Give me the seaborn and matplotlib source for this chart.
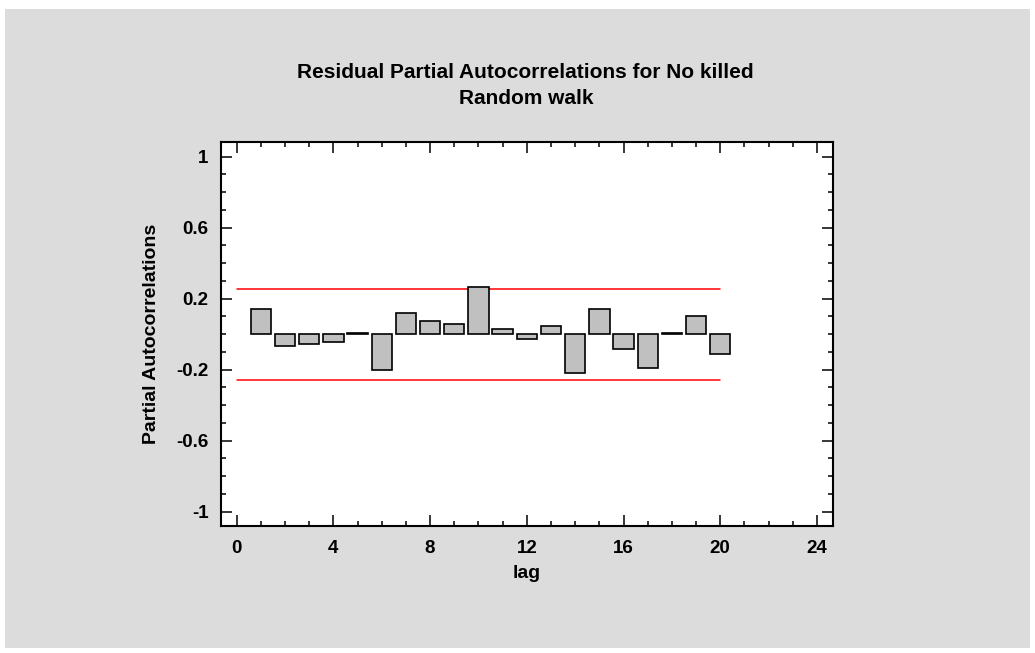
import numpy as np
import pandas as pd
import seaborn as sns
import matplotlib.pyplot as plt
from matplotlib.patches import Rectangle
from matplotlib.ticker import MultipleLocator, FuncFormatter

# residual partial autocorrelations
lags = list(range(1, 21))
pacf = [0.139, -0.066, -0.056, -0.045, 0.006, -0.200, 0.120, 0.075, 0.056, 0.266,
        0.028, -0.028, 0.047, -0.219, 0.139, -0.084, -0.193, 0.006, 0.101, -0.112]
limit = 0.256
limit_span = [0, 20]

df = pd.DataFrame({"lag": lags, "pacf": pacf})

sns.set_theme(style="white")
plt.rcParams["font.family"] = ["Liberation Sans", "DejaVu Sans"]
plt.rcParams["font.weight"] = "bold"
plt.rcParams["text.color"] = "black"
plt.rcParams["axes.labelcolor"] = "black"
plt.rcParams["xtick.color"] = "black"
plt.rcParams["ytick.color"] = "black"

fig = plt.figure(figsize=(10.35, 6.53), dpi=100)
fig.patch.set_facecolor("white")
# grey panel behind the chart
fig.patches.append(Rectangle((5 / 1035, 5 / 653), 1025 / 1035, 639 / 653,
                             transform=fig.transFigure, facecolor="#dcdcdc",
                             edgecolor="none", zorder=-10))

ax = fig.add_axes([0.2135, 0.1945, 0.591, 0.5875])
ax.set_facecolor("white")

sns.barplot(data=df, x="lag", y="pacf", native_scale=True, width=0.84,
            color="#c0c0c0", saturation=1, edgecolor="black", linewidth=1.2,
            ax=ax, zorder=3)

# probability limits
ax.plot(limit_span, [limit, limit], color="red", lw=1.1, zorder=2)
ax.plot(limit_span, [-limit, -limit], color="red", lw=1.1, zorder=2)

ax.set_xlim(-0.65, 24.65)
ax.set_ylim(-1.08, 1.08)
ax.xaxis.set_major_locator(MultipleLocator(4))
ax.xaxis.set_minor_locator(MultipleLocator(1))
ax.set_yticks([-1, -0.6, -0.2, 0.2, 0.6, 1])
ax.yaxis.set_minor_locator(MultipleLocator(0.1))
ax.yaxis.set_major_formatter(FuncFormatter(lambda v, p: f"{v:g}"))
ax.xaxis.set_major_formatter(FuncFormatter(lambda v, p: f"{v:g}"))

ax.tick_params(which="both", direction="in", top=True, right=True,
               bottom=True, left=True, color="black", width=1.1)
ax.tick_params(which="major", length=8, labelsize=13.5)
ax.tick_params(axis="x", which="major", pad=10)
ax.tick_params(axis="y", which="major", pad=9)
ax.tick_params(which="minor", length=3.5)
for lbl in ax.get_xticklabels() + ax.get_yticklabels():
    lbl.set_fontweight("bold")
for s in ax.spines.values():
    s.set_visible(True)
    s.set_color("black")
    s.set_linewidth(1.5)

ax.set_xlabel("lag", fontsize=14, fontweight="bold", labelpad=6)
ax.set_ylabel("Partial Autocorrelations", fontsize=14, fontweight="bold", labelpad=12)

# two-line title, centred over the axes
fig.text(0.508, 1 - 72 / 653, "Residual Partial Autocorrelations for No killed",
         ha="center", va="center", fontsize=15, fontweight="bold")
fig.text(0.508, 1 - 98 / 653, "Random walk",
         ha="center", va="center", fontsize=15, fontweight="bold")

fig.savefig("out.png", dpi=100, facecolor=fig.get_facecolor())
